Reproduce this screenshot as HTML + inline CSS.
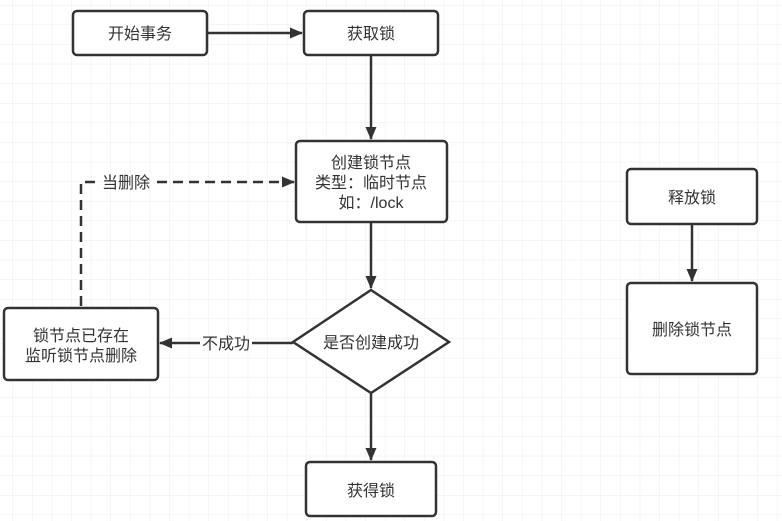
<!DOCTYPE html>
<html><head><meta charset="utf-8"><style>
html,body{margin:0;padding:0;background:#fff;}
svg{display:block;}
text{font-family:"Liberation Sans","Noto Sans CJK SC",sans-serif;font-size:16px;fill:#333;}
</style></head><body>
<svg width="782" height="521" viewBox="0 0 782 521" xmlns="http://www.w3.org/2000/svg">
<defs>
<pattern id="g" x="12.5" y="5" width="19.6" height="19.6" patternUnits="userSpaceOnUse">
<path d="M0 0V19.6M0 0H19.6" stroke="#ebebeb" stroke-width="1" fill="none"/>
</pattern>
<marker id="a" markerWidth="13" markerHeight="12" refX="12" refY="6" orient="auto" markerUnits="userSpaceOnUse">
<path d="M0 0.5L13 6L0 11.5Z" fill="#333"/>
</marker>
</defs>
<rect width="782" height="521" fill="url(#g)"/>
<g stroke="#333" stroke-width="2.5" fill="#fff">
<rect x="73" y="11" width="134" height="44" rx="4"/>
<rect x="304" y="11" width="134" height="44" rx="4"/>
<rect x="296" y="141" width="151" height="81" rx="4"/>
<path d="M293 342L371 290L449 342L371 393Z"/>
<rect x="306" y="462" width="130" height="54" rx="4"/>
<rect x="4" y="308" width="154" height="72" rx="4"/>
<rect x="627" y="169" width="130" height="55" rx="4"/>
<rect x="627" y="283" width="130" height="91" rx="4"/>
</g>
<g stroke="#333" stroke-width="2.5" fill="none">
<line x1="207" y1="33" x2="302" y2="33" marker-end="url(#a)"/>
<line x1="371" y1="56" x2="371" y2="139" marker-end="url(#a)"/>
<line x1="371" y1="222" x2="371" y2="288" marker-end="url(#a)"/>
<line x1="371" y1="393" x2="371" y2="460" marker-end="url(#a)"/>
<line x1="692" y1="224" x2="692" y2="281" marker-end="url(#a)"/>
<line x1="293" y1="343" x2="252" y2="343"/>
<line x1="200" y1="343" x2="160" y2="343" marker-end="url(#a)"/>
<path d="M81 306V182H95" stroke-dasharray="10,6"/>
<line x1="157" y1="182" x2="294" y2="182" stroke-dasharray="10,6" marker-end="url(#a)"/>
</g>
<g text-anchor="middle">
<text x="140" y="39">开始事务</text>
<text x="371" y="39">获取锁</text>
<text x="371" y="168">创建锁节点</text>
<text x="371" y="188">类型：临时节点</text>
<text x="371" y="208">如：/lock</text>
<text x="371" y="348">是否创建成功</text>
<text x="371" y="496">获得锁</text>
<text x="81" y="341">锁节点已存在</text>
<text x="81" y="361">监听锁节点删除</text>
<text x="692" y="203">释放锁</text>
<text x="692" y="335">删除锁节点</text>
<text x="226" y="349">不成功</text>
<text x="126" y="188">当删除</text>
</g>
</svg>
</body></html>
